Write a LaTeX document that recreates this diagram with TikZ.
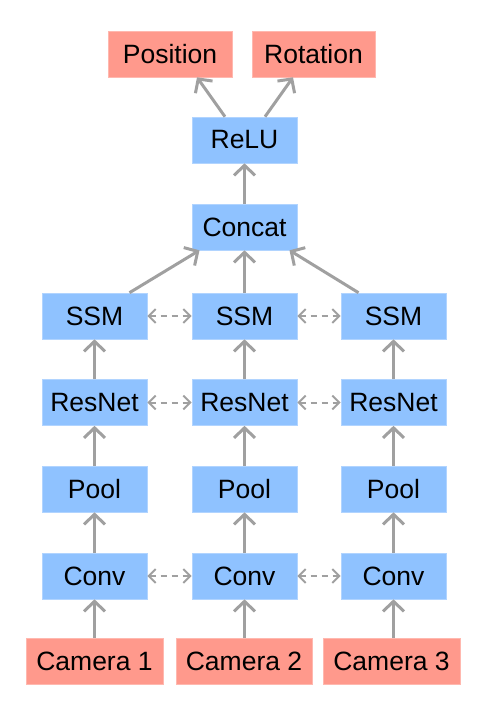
\documentclass[tikz,border=0pt]{standalone}
\usepackage{fontspec}
\setmainfont{Liberation Sans}
\usetikzlibrary{arrows.meta,calc}
\definecolor{boxblue}{RGB}{143,194,255}
\definecolor{boxred}{RGB}{255,153,140}
\definecolor{arrgray}{RGB}{160,160,160}
\tikzset{
  blk/.style={fill=boxblue, draw=boxblue!70!white, line width=0.6pt, minimum width=105pt, minimum height=46pt, inner sep=0pt, font=\fontsize{26.5}{30}\selectfont},
  redbox/.style={fill=boxred, draw=boxred!70!white, line width=0.6pt, minimum height=46pt, inner sep=0pt, font=\fontsize{26.5}{30}\selectfont},
  flow/.style={draw=arrgray, line width=3pt, -{Straight Barb[length=10pt,width=21pt,line width=3pt]}},
  link/.style={draw=arrgray, line width=2pt, dash pattern=on 6pt off 5pt, {Straight Barb[length=7pt,width=14pt,line width=2pt]}-{Straight Barb[length=7pt,width=14pt,line width=2pt]}}
}
\begin{document}
\begin{tikzpicture}[x=1pt,y=-1pt]
\useasboundingbox (0,0) rectangle (490,710);
\node[redbox, minimum width=124pt] (pos) at (170,54) {Position};
\node[redbox, minimum width=123pt] (rot) at (313.5,54) {Rotation};
\node[blk] (relu) at (244.5,140) {ReLU};
\node[blk] (concat) at (244.5,227) {Concat};
\foreach \i/\x in {1/94.5,2/244.5,3/393.5}{
  \node[blk] (ssm\i) at (\x,316) {SSM};
  \node[blk] (res\i) at (\x,402.5) {ResNet};
  \node[blk] (pool\i) at (\x,489) {Pool};
  \node[blk] (conv\i) at (\x,576) {Conv};
}
\node[redbox, minimum width=137pt] (cam1) at (94.5,661.5) {Camera 1};
\node[redbox, minimum width=136pt] (cam2) at (244,661.5) {Camera 2};
\node[redbox, minimum width=137pt] (cam3) at (391.5,661.5) {Camera 3};
\foreach \i in {1,2,3}{
  \draw[flow] (cam\i.north -| conv\i.south) -- (conv\i.south);
  \draw[flow] (conv\i.north) -- (pool\i.south);
  \draw[flow] (pool\i.north) -- (res\i.south);
  \draw[flow] (res\i.north) -- (ssm\i.south);
}
\foreach \r in {conv,res,ssm}{
  \draw[link] (\r1.east) -- (\r2.west);
  \draw[link] (\r2.east) -- (\r3.west);
}
\draw[flow] ([xshift=35pt]ssm1.north) -- ([xshift=-45pt]concat.south);
\draw[flow] (ssm2.north) -- (concat.south);
\draw[flow] ([xshift=-35pt]ssm3.north) -- ([xshift=45pt]concat.south);
\draw[flow] (concat.north) -- (relu.south);
\draw[flow] ([xshift=-19.5pt]relu.north) -- ([xshift=27pt]pos.south);
\draw[flow] ([xshift=20.5pt]relu.north) -- ([xshift=-20.5pt]rot.south);
\end{tikzpicture}
\end{document}
